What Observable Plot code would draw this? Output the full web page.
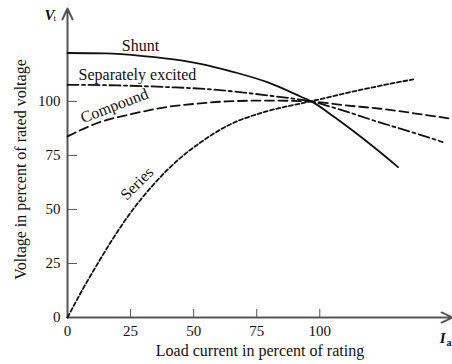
<!DOCTYPE html>
<html>
<head>
<meta charset="utf-8">
<script src="https://cdn.jsdelivr.net/npm/d3@7"></script>
<script src="https://cdn.jsdelivr.net/npm/@observablehq/plot@0.6"></script>
<style>
  html, body { margin: 0; padding: 0; background: #fff; }
  svg { display: block; }
</style>
</head>
<body>
<div id="chart"></div>
<script>
// Load current (% of rating) and terminal voltage (% of rated)
const shuntX = [0, 15, 30, 45, 52.7, 65.9, 79.2, 92.3, 97, 105.5, 113, 122, 131];
const shuntY = [122.4, 122.2, 121, 119, 117.4, 113.6, 108.9, 102.3, 99.8, 93, 86.5, 78.3, 69.6];

const sepX = [0, 20, 40, 52.7, 65, 79.2, 88, 97, 105, 124, 137, 148.7];
const sepY = [107.7, 107.4, 106.6, 105.9, 104.7, 102.8, 101.5, 99.9, 97.3, 90.2, 85.6, 81.2];

const compX = [0, 12.8, 26, 39.2, 52.7, 63, 79.2, 97, 110, 124, 138, 152];
const compY = [83.8, 90.4, 94.3, 97.4, 99.1, 100, 100.4, 99.9, 98.2, 96.6, 94.4, 92];

const seriesX = [0, 6, 12, 18, 24.7, 33.3, 45.9, 52.7, 63, 79.2, 92.3, 97, 116, 137];
const seriesY = [0, 13, 25, 36.5, 48, 60.5, 75, 81, 88.5, 95.5, 99, 100.2, 105.3, 110.2];

const seriesNames = ["Shunt", "Separately excited", "Compound", "Series"];
const xTicks = [0, 25, 50, 75, 100];
const yTicks = [0, 25, 50, 75, 100];
const xLabel = "Load current in percent of rating";
const yLabel = "Voltage in percent of rated voltage";
const xDomain = [0, 152.6];
const yDomain = [0, 143];

// curve label anchors (data coordinates)
const curveLabels = [
  {text: "Shunt", x: 28.9, y: 125.9, rotate: 0},
  {text: "Separately excited", x: 27.7, y: 112.3, rotate: 0},
  {text: "Compound", x: 18.6, y: 98, rotate: -21},
  {text: "Series", x: 27.5, y: 62, rotate: -45}
];

const zip = (xs, ys, name) => xs.map((x, i) => ({x, y: ys[i], name}));
const shunt = zip(shuntX, shuntY, seriesNames[0]);
const sep = zip(sepX, sepY, seriesNames[1]);
const comp = zip(compX, compY, seriesNames[2]);
const series = zip(seriesX, seriesY, seriesNames[3]);

const ink = "#111";
const axisColor = "#555";
const font = "'Liberation Serif', 'Times New Roman', serif";
const curve = "monotone-x";

const chart = Plot.plot({
  width: 452,
  height: 364,
  marginLeft: 67,
  marginRight: 0,
  marginTop: 8,
  marginBottom: 47,
  style: {fontFamily: font, fontSize: "15px", color: ink, background: "#fff", overflow: "visible"},
  x: {domain: xDomain},
  y: {domain: yDomain},
  marks: [
    Plot.axisX({ticks: xTicks, tickSize: -8, tickPadding: 16, stroke: axisColor, fill: ink, label: null, fontSize: 15, tickFormat: d => d}),
    Plot.axisY({ticks: yTicks, tickSize: -10, tickPadding: 17, stroke: axisColor, fill: ink, label: null, fontSize: 15, tickFormat: d => d}),
    Plot.arrow([0], {x1: 0, y1: 0, x2: xDomain[1], y2: 0, stroke: axisColor, strokeWidth: 2, headLength: 9, headAngle: 50}),
    Plot.arrow([0], {x1: 0, y1: 0, x2: 0, y2: yDomain[1], stroke: axisColor, strokeWidth: 2, headLength: 9, headAngle: 50}),
    Plot.line(shunt, {x: "x", y: "y", curve, stroke: ink, strokeWidth: 1.8}),
    Plot.line(sep, {x: "x", y: "y", curve, stroke: ink, strokeWidth: 1.8, strokeDasharray: "11,3.5,3,3.5"}),
    Plot.line(comp, {x: "x", y: "y", curve, stroke: ink, strokeWidth: 1.8, strokeDasharray: "9,4.5"}),
    Plot.line(series, {x: "x", y: "y", curve, stroke: ink, strokeWidth: 1.8, strokeDasharray: "4,2.5"}),
    Plot.text(curveLabels, {x: "x", y: "y", text: "text", rotate: "rotate", fill: ink, fontSize: 16}),
    Plot.text([xLabel], {frameAnchor: "bottom", dy: 38, fill: ink, fontSize: 16, text: d => d}),
    Plot.text([yLabel], {frameAnchor: "left", textAnchor: "middle", rotate: -90, dx: -47, dy: 6.5, fill: ink, fontSize: 16, text: d => d}),
    Plot.text(["V"], {frameAnchor: "top-left", dx: -23, dy: 1, fill: ink, fontSize: 15, fontWeight: "bold", fontStyle: "italic", text: d => d}),
    Plot.text(["t"], {frameAnchor: "top-left", dx: -14, dy: 6, fill: ink, fontSize: 9, text: d => d}),
    Plot.text(["I"], {frameAnchor: "bottom-right", dx: -7, dy: 25, fill: ink, fontSize: 15, fontWeight: "bold", fontStyle: "italic", text: d => d}),
    Plot.text(["a"], {frameAnchor: "bottom-right", dx: -1, dy: 28, fill: ink, fontSize: 10, fontWeight: "bold", text: d => d})
  ]
});
document.getElementById("chart").appendChild(chart);
</script>
</body>
</html>
